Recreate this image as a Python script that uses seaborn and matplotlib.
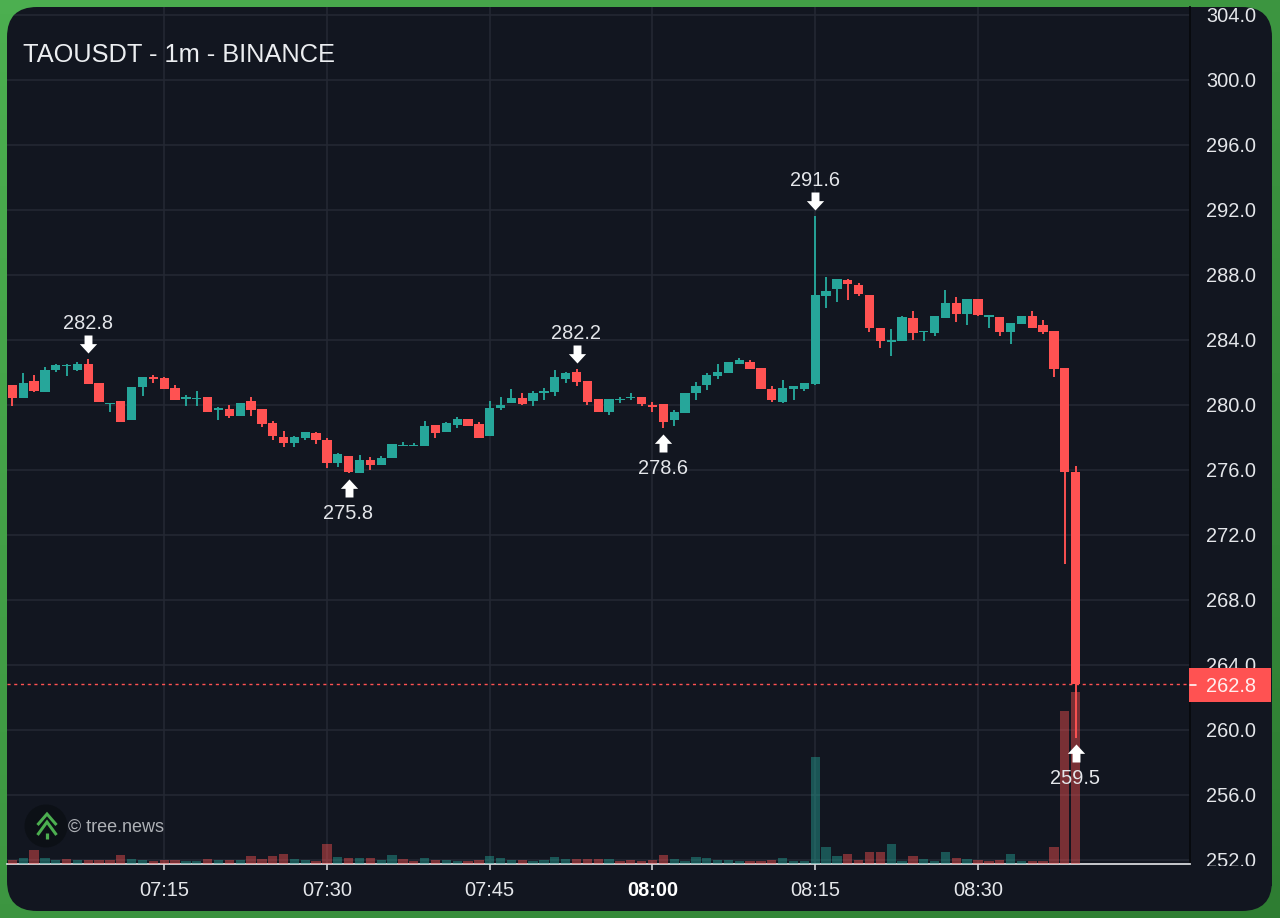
import numpy as np
import pandas as pd
import matplotlib
matplotlib.use("Agg")
import matplotlib.pyplot as plt
from matplotlib.patches import FancyBboxPatch, Rectangle, Circle
from matplotlib.path import Path
from matplotlib.transforms import offset_copy
from matplotlib.colors import LinearSegmentedColormap
import seaborn as sns

# One-minute TAO/USDT candles, 07:01 to 08:39
minutes = list(range(1, 100))
opens = [281.25, 280.41, 281.48, 280.80, 282.13, 282.40, 282.17, 282.52, 281.35, 280.06,
         280.25, 279.10, 281.09, 281.74, 281.66, 281.03, 280.37, 280.35, 280.47, 279.67,
         279.75, 279.30, 280.27, 279.75, 278.87, 278.05, 277.64, 277.97, 278.26, 277.87,
         276.41, 276.84, 275.82, 276.64, 276.33, 276.72, 277.48, 277.46, 277.48, 278.75,
         278.32, 278.79, 279.14, 278.85, 278.09, 279.82, 280.10, 280.45, 280.23, 280.76,
         280.80, 281.58, 282.01, 281.48, 280.35, 279.57, 280.29, 280.43, 280.47, 279.98,
         280.04, 279.10, 279.49, 280.72, 281.21, 281.78, 281.99, 282.50, 282.65, 282.28,
         281.00, 280.16, 280.96, 281.00, 281.29, 286.73, 287.12, 287.67, 287.41, 286.77,
         284.76, 283.86, 283.96, 285.37, 284.47, 284.43, 285.35, 286.28, 285.60, 286.50,
         285.44, 285.39, 284.49, 285.00, 285.50, 284.90, 284.55, 282.28, 275.88]
closes = [280.41, 281.35, 280.88, 282.15, 282.46, 282.46, 282.54, 281.31, 280.18, 280.12,
          278.97, 281.13, 281.72, 281.60, 280.98, 280.31, 280.47, 280.45, 279.59, 279.79,
          279.30, 280.12, 279.71, 278.81, 278.07, 277.66, 278.05, 278.34, 277.83, 276.41,
          276.96, 275.90, 276.62, 276.33, 276.72, 277.62, 277.56, 277.54, 278.73, 278.30,
          278.87, 279.12, 278.71, 277.97, 279.84, 280.02, 280.45, 280.08, 280.76, 280.88,
          281.74, 281.97, 281.39, 280.18, 279.57, 280.35, 280.37, 280.51, 280.08, 279.90,
          278.97, 279.55, 280.76, 281.15, 281.87, 282.05, 282.65, 282.77, 282.22, 281.00,
          280.31, 281.03, 281.15, 281.37, 286.75, 287.04, 287.75, 287.47, 286.81, 284.72,
          283.94, 284.00, 285.39, 284.45, 284.55, 285.50, 286.26, 285.62, 286.50, 285.52,
          285.52, 284.47, 285.05, 285.50, 284.74, 284.49, 282.24, 275.88, 262.80]
highs = [281.25, 281.97, 281.85, 282.36, 282.52, 282.52, 282.67, 282.80, 281.35, 280.12,
         280.25, 281.13, 281.72, 281.87, 281.74, 281.25, 280.62, 280.88, 280.50, 279.86,
         279.98, 280.12, 280.51, 279.75, 278.99, 278.42, 278.11, 278.36, 278.36, 277.97,
         277.03, 276.84, 276.94, 276.78, 276.84, 277.62, 277.74, 277.66, 279.02, 278.75,
         278.95, 279.24, 279.14, 278.97, 280.25, 280.47, 280.96, 280.74, 280.86, 281.03,
         282.15, 282.05, 282.20, 281.48, 280.35, 280.35, 280.49, 280.76, 280.47, 280.16,
         280.04, 279.67, 280.76, 281.39, 281.99, 282.50, 282.65, 282.87, 282.77, 282.28,
         281.15, 281.52, 281.15, 281.37, 291.60, 287.88, 287.75, 287.77, 287.51, 286.77,
         284.76, 284.66, 285.45, 285.76, 284.55, 285.50, 287.06, 286.67, 286.50, 286.50,
         285.52, 285.39, 285.05, 285.50, 285.78, 285.25, 284.55, 282.28, 276.25]
lows = [279.96, 280.41, 280.78, 280.80, 282.01, 281.81, 282.07, 281.31, 280.18, 279.59,
        278.97, 279.10, 280.57, 281.33, 280.98, 280.31, 279.96, 279.96, 279.59, 279.10,
        279.20, 279.30, 279.30, 278.67, 277.85, 277.44, 277.44, 277.85, 277.58, 276.10,
        276.21, 275.80, 275.82, 275.98, 276.33, 276.72, 277.48, 277.46, 277.48, 277.97,
        278.32, 278.58, 278.71, 277.97, 278.09, 279.69, 280.10, 279.98, 279.92, 280.31,
        280.57, 281.33, 281.19, 279.98, 279.57, 279.41, 280.10, 280.31, 279.96, 279.59,
        278.60, 278.70, 279.49, 280.33, 280.94, 281.58, 281.95, 282.50, 282.22, 281.00,
        280.20, 280.10, 280.33, 280.86, 281.23, 285.97, 286.32, 286.44, 286.73, 284.51,
        283.49, 283.02, 283.96, 283.98, 283.94, 284.25, 285.35, 285.11, 284.94, 285.45,
        284.74, 284.25, 283.75, 285.00, 284.74, 284.39, 281.72, 270.20, 259.50]
volumes = [13, 17, 43, 18, 12, 16, 11, 11, 13, 13,
           26, 14, 13, 9, 11, 12, 8, 10, 16, 13,
           13, 11, 24, 16, 24, 29, 14, 12, 9, 60,
           21, 19, 18, 17, 12, 26, 14, 9, 17, 13,
           11, 9, 9, 12, 24, 19, 12, 11, 9, 11,
           21, 14, 15, 15, 15, 14, 10, 12, 10, 12,
           28, 16, 9, 21, 19, 12, 12, 8, 8, 10,
           11, 19, 10, 10, 322, 52, 25, 29, 12, 37,
           37, 61, 10, 23, 15, 10, 37, 18, 15, 13,
           10, 13, 31, 10, 10, 10, 50, 458, 515]
volume_sides = list(
    "RGRGGRGRRR"
    "RGGRRRGGRG"
    "RGRRRRGGRR"
    "GRGRGGRRGR"
    "GGRRGGGRGG"
    "GGRRRGRRRR"
    "RGGGGGGGRR"
    "RGGGGGGRRR"
    "RGGRGGGRGR"
    "RRGGRRRRR"
)

time_ticks = [15, 30, 45, 60, 75, 90]
time_labels = ["07:15", "07:30", "07:45", "08:00", "08:15", "08:30"]
price_ticks = list(range(252, 305, 4))
price_labels = [f"{p:.1f}" for p in price_ticks]
last_price = 262.8
extreme_minutes = [8, 32, 53, 61, 75, 99]
extreme_prices = [282.8, 275.8, 282.2, 278.6, 291.6, 259.5]
extreme_kinds = ["high", "low", "high", "low", "high", "low"]

UP = "#26a69a"
DOWN = "#ff5252"
CARD = "#121620"
GRID = "#242833"
TEXT = "#e4e6ea"
FONT = ["Liberation Sans", "DejaVu Sans"]

sns.set_theme(style="dark")
plt.rcParams["font.family"] = FONT

W, H = 1280, 918
fig = plt.figure(figsize=(W / 100, H / 100), dpi=100)


def px(points):
    return points * 0.72


# Frame: green gradient behind a rounded dark card, all in pixel coordinates
ax_bg = fig.add_axes([0, 0, 1, 1], zorder=0)
ax_bg.set_xlim(0, W)
ax_bg.set_ylim(H, 0)
ax_bg.axis("off")
cmap = LinearSegmentedColormap.from_list("frame", ["#4caf50", "#2e7d32"])
xx, yy = np.meshgrid(np.linspace(0, 1, 64), np.linspace(0, 1, 64))
ax_bg.imshow((xx + yy) / 2, cmap=cmap, extent=(0, W, H, 0), aspect="auto", vmin=0, vmax=1)
card = FancyBboxPatch((37, 37), 1205, 844, boxstyle="round,pad=30,rounding_size=30",
                      facecolor=CARD, edgecolor="none")
ax_bg.add_patch(card)

# Plot area, shared by three stacked axes: grid and ticks, volume, candles
rect = [7 / W, (H - 864) / H, (1190 - 7) / W, (864 - 7) / H]
x_lim = (0.51, 109.54)
y_lim = (251.75, 304.49)

ax_grid = fig.add_axes(rect, zorder=1, facecolor="none")
ax_vol = fig.add_axes(rect, zorder=2, facecolor="none")
ax = fig.add_axes(rect, zorder=3, facecolor="none")

frame = pd.DataFrame({"minute": minutes, "open": opens, "close": closes, "high": highs,
                      "low": lows, "volume": volumes, "side": volume_sides})
frame["bottom"] = frame[["open", "close"]].min(axis=1)
frame["body"] = (frame["close"] - frame["open"]).abs()
frame["rising"] = frame["close"] >= frame["open"]

# Volume histogram along the bottom edge
for side, colour in (("G", UP), ("R", DOWN)):
    sns.barplot(data=frame[frame["side"] == side], x="minute", y="volume", native_scale=True,
                color=colour, saturation=1, alpha=0.44, width=0.86, errorbar=None,
                linewidth=0, ax=ax_vol)
ax_vol.set_xlim(x_lim)
ax_vol.set_ylim(0, 2571)
ax_vol.axis("off")

# Candles: wicks, then bodies on top
for rising, colour in ((True, UP), (False, DOWN)):
    part = frame[frame["rising"] == rising].sort_values("minute")
    ax.vlines(part["minute"], part["low"], part["high"], color=colour, lw=px(1.9), zorder=2)
    sns.barplot(data=part, x="minute", y="body", bottom=part["bottom"].to_numpy(),
                native_scale=True, color=colour, saturation=1, width=0.86, errorbar=None,
                linewidth=0, zorder=3, ax=ax)
ax.set_xlim(x_lim)
ax.set_ylim(y_lim)
ax.axis("off")

# Last-price line
ax.axhline(last_price, color=DOWN, lw=px(1.4), dashes=(2.2, 2.6), zorder=1)

# Swing markers with their prices
arrow_down = Path([(-0.22, 0.5), (0.22, 0.5), (0.22, 0.02), (0.48, 0.02), (0, -0.5),
                   (-0.48, 0.02), (-0.22, 0.02), (-0.22, 0.5)], closed=True)
arrow_up = Path(arrow_down.vertices * np.array([1, -1]), closed=True)
for minute, price, kind in zip(extreme_minutes, extreme_prices, extreme_kinds):
    sign = 1 if kind == "high" else -1
    marker = arrow_down if kind == "high" else arrow_up
    ax.plot([minute], [price], marker=marker, ms=px(18), mfc="white", mec="none", ls="none",
            transform=offset_copy(ax.transData, fig=fig, y=sign * 15, units="dots"), zorder=5)
    ax.annotate(f"{price:.1f}", (minute, price), xytext=(-0.5, 35.5 if kind == "high" else -40.5),
                textcoords="offset pixels", ha="center", va="center", color=TEXT,
                fontsize=px(20), zorder=6)

# Grid, axis lines and tick labels
ax_grid.set_xlim(x_lim)
ax_grid.set_ylim(y_lim)
ax_grid.set_xticks(time_ticks)
ax_grid.set_xticklabels(time_labels)
ax_grid.set_yticks(price_ticks)
ax_grid.set_yticklabels(price_labels)
ax_grid.yaxis.tick_right()
ax_grid.grid(True, color=GRID, lw=px(1.6))
ax_grid.tick_params(axis="x", bottom=True, length=px(6), width=px(1.6), color="#d6d8dc",
                    labelsize=px(20), labelcolor=TEXT, pad=px(11))
ax_grid.tick_params(axis="y", right=True, length=px(6), width=px(1.6), color="#07090d",
                    labelsize=px(20), labelcolor=TEXT, pad=px(10))
for label in ax_grid.get_xticklabels():
    if label.get_text() == "08:00":
        label.set_fontweight("bold")
        label.set_color("white")
sns.despine(ax=ax_grid, top=True, left=True, right=False, bottom=False)
ax_grid.spines["bottom"].set(color="#d6d8dc", lw=px(1.8))
ax_grid.spines["right"].set(color="#07090d", lw=px(1.8))
for line in ax_grid.get_xgridlines() + ax_grid.get_ygridlines():
    line.set_clip_path(card)

# Title, attribution and price tag in pixel coordinates
ax_top = fig.add_axes([0, 0, 1, 1], zorder=4, facecolor="none")
ax_top.set_xlim(0, W)
ax_top.set_ylim(H, 0)
ax_top.axis("off")
ax_top.add_patch(Rectangle((1192, 866), 80, 20, facecolor=CARD, edgecolor="none"))
ax_top.text(23, 55.5, "TAOUSDT - 1m - BINANCE", color="#eceef1", fontsize=px(25.35),
            va="center", ha="left")

ax_top.add_patch(Circle((46, 826), 21.5, facecolor="#0c1016", edgecolor="none"))
for tip, ends in ((814, 825), (822, 835)):
    ax_top.plot([37.5, 47, 56.5], [ends, tip, ends], color="#4caf50", lw=px(3.0),
                solid_capstyle="butt", solid_joinstyle="miter")
ax_top.plot([47, 47], [833, 839], color="#4caf50", lw=px(3.2), solid_capstyle="butt")
ax_top.text(68, 827.5, "© tree.news", color="#aeb1b6", fontsize=px(18), va="center", ha="left")

ax_top.add_patch(Rectangle((1189, 668), 82, 34, facecolor=DOWN, edgecolor="none"))
ax_top.plot([1190, 1196], [685, 685], color="white", lw=px(1.6))
ax_top.text(1231, 685, f"{last_price:.1f}", color="#ffeeee", fontsize=px(20), ha="center",
            va="center_baseline")

fig.savefig("out.png", dpi=100)
